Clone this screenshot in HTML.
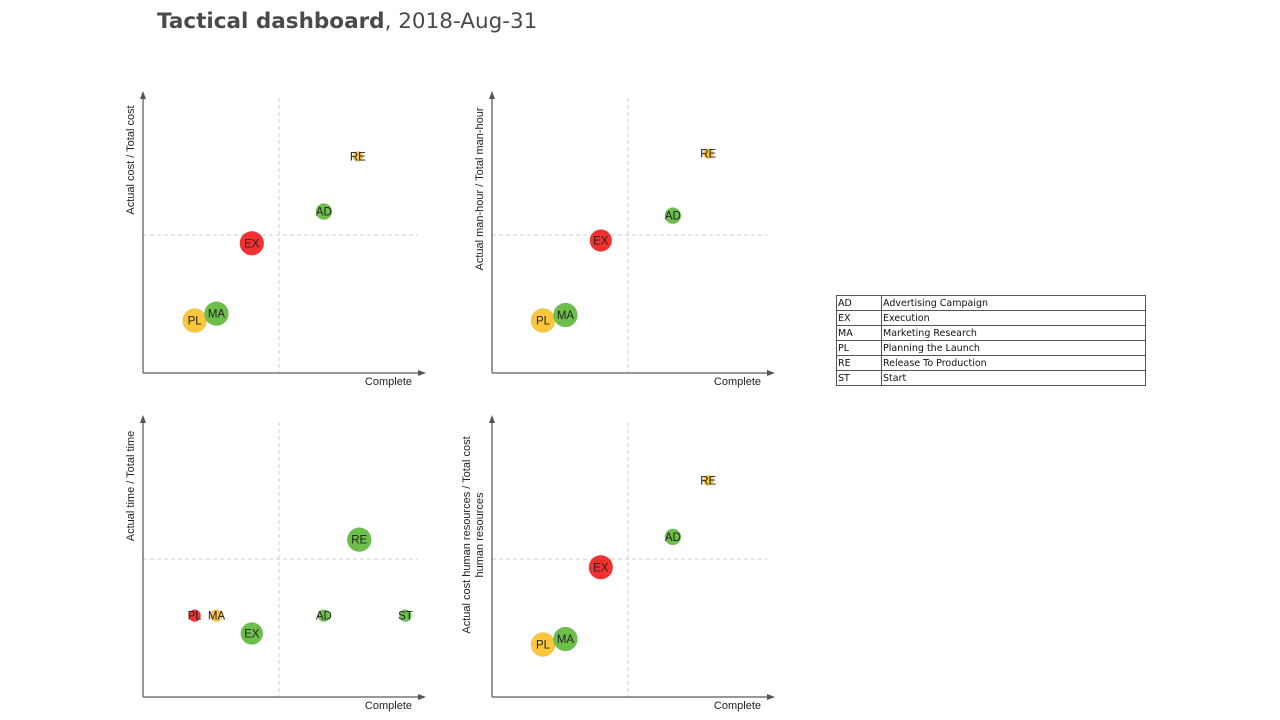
<!DOCTYPE html>
<html><head><meta charset="utf-8"><style>
body{margin:0;background:#fff;width:1280px;height:720px;overflow:hidden;position:relative;font-family:"Liberation Sans",sans-serif}
#title{position:absolute;left:157px;top:9px;font-family:"DejaVu Sans",sans-serif;font-size:21.5px;color:#4a4a4a;white-space:nowrap}
#legend{position:absolute;left:836px;top:295px;border-collapse:collapse;font-family:"DejaVu Sans",sans-serif;font-size:9.5px;color:#111}
#legend td{border:1px solid #555;height:14px;padding:0 1px;line-height:13px}
</style></head><body>
<div id="title"><b>Tactical dashboard</b>, 2018-Aug-31</div>
<svg id="svg" width="1280" height="720" style="position:absolute;left:0;top:0"></svg>
<table id="legend">
<tr><td style="width:42px">AD</td><td style="width:261px">Advertising Campaign</td></tr>
<tr><td>EX</td><td>Execution</td></tr>
<tr><td>MA</td><td>Marketing Research</td></tr>
<tr><td>PL</td><td>Planning the Launch</td></tr>
<tr><td>RE</td><td>Release To Production</td></tr>
<tr><td>ST</td><td>Start</td></tr>
</table>
<script>
const labels1=["RE","AD","EX","PL","MA"];
const x1=[1.58,1.33,0.80,0.38,0.54];
const y1=[1.57,1.17,0.94,0.38,0.43];
const r1=[5,8,12,12,12];
const c1=["y","g","r","y","g"];
const labels2=["RE","AD","EX","PL","MA"];
const x2=[1.59,1.33,0.80,0.375,0.54];
const y2=[1.59,1.14,0.96,0.38,0.42];
const r2=[5,8,11,12,12];
const c2=["y","g","r","y","g"];
const labels3=["RE","PL","MA","EX","AD","ST"];
const x3=[1.59,0.38,0.54,0.80,1.33,1.93];
const y3=[1.14,0.59,0.59,0.46,0.59,0.59];
const r3=[12,6,6,11,6,6];
const c3=["g","r","y","g","g","g"];
const labels4=["RE","AD","EX","PL","MA"];
const x4=[1.59,1.33,0.80,0.375,0.54];
const y4=[1.57,1.16,0.94,0.38,0.42];
const r4=[5,8,12,12,12];
const c4=["y","g","r","y","g"];
const COL={g:"#6cc04a",r:"#f33131",y:"#fdc73c"};
const NS="http://www.w3.org/2000/svg";
const svg=document.getElementById('svg');
function mk(t,a){const e=document.createElementNS(NS,t);for(const k in a)e.setAttribute(k,a[k]);svg.appendChild(e);return e;}
function chart(ox,oy,ytitle,tc,labels,xs,ys,rs,cs,name){
  const sx=v=>ox+v*136, sy=v=>oy-v*138;
  let e;
  e=mk('line',{x1:sx(1),y1:oy-275,x2:sx(1),y2:oy,stroke:"#ccc","stroke-dasharray":"4,3"});
  
  
  e=mk('line',{x1:ox,y1:sy(1),x2:ox+275,y2:sy(1),stroke:"#ccc","stroke-dasharray":"4,3"});
  
  
  e=mk('path',{d:`M${ox} ${oy}V${oy-277}M${ox} ${oy}H${ox+277}`,stroke:"#777","stroke-width":1.5,fill:"none"});
  
  
  e=mk('path',{d:`M${ox-3} ${oy-274}L${ox} ${oy-282}L${ox+3} ${oy-274}ZM${ox+275} ${oy-3}L${ox+283} ${oy}L${ox+275} ${oy+3}Z`,fill:"#555"});
  
  
  e=mk('text',{x:ox+269,y:oy+12,"text-anchor":"end","font-size":11,fill:"#222"});e.textContent="Complete";
  
  
  const lines=ytitle.split("|");
  lines.forEach((l,i)=>{
    const xx=ox-9-(lines.length-1-i)*13;
    e=mk('text',{x:0,y:0,transform:`translate(${xx},${tc}) rotate(-90)`,"text-anchor":"middle","font-size":11,fill:"#222"});e.textContent=l;
    
    
  });
  labels.forEach((lb,i)=>{
    e=mk('circle',{cx:sx(xs[i]),cy:sy(ys[i]),r:rs[i],fill:COL[cs[i]],stroke:"rgba(0,0,0,0.08)"});
    
    
    e=mk('text',{x:sx(xs[i]),y:sy(ys[i])+4,"text-anchor":"middle","font-size":11.5,fill:"#222"});e.textContent=lb;
    
    
  });
}
chart(143,373,"Actual cost / Total cost",160,labels1,x1,y1,r1,c1,"cost-chart");
chart(492,373,"Actual man-hour / Total man-hour",189,labels2,x2,y2,r2,c2,"manhour-chart");
chart(143,697,"Actual time / Total time",486,labels3,x3,y3,r3,c3,"time-chart");
chart(492,697,"Actual cost human resources / Total cost|human resources",535,labels4,x4,y4,r4,c4,"hr-chart");
</script>
</body></html>
